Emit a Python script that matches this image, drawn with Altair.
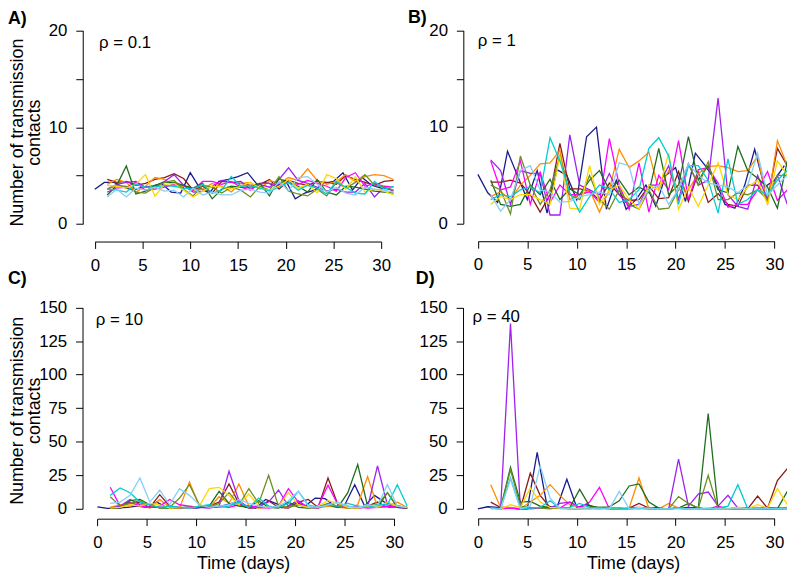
import altair as alt
import pandas as pd

FONT = "Liberation Sans"

SERIES = ["navy", "darkred", "darkorange", "purple", "magenta",
          "darkgreen", "olivedrab", "gold", "darkturquoise", "lightskyblue"]
COLORS = ["#1A1A8C", "#8B1A1A", "#FF8C00", "#A020F0", "#FF00FF",
          "#1E6E1E", "#6B8E23", "#FFD700", "#00CED1", "#87CEFA"]

# time points (days)
T_NAVY = [0, 1, 2, 3, 4, 5, 6, 7, 8, 9, 10, 11, 12, 13, 14, 15, 16, 17, 18, 19,
          20, 21, 22, 23, 24, 25, 26, 27, 28, 29, 30, 31]
T_OTHER = [1.3, 2.3, 3.3, 4.3, 5.3, 6.3, 7.3, 8.3, 9.3, 10.3, 11.3, 12.3, 13.3,
           14.3, 15.3, 16.3, 17.3, 18.3, 19.3, 20.3, 21.3, 22.3, 23.3, 24.3,
           25.3, 26.3, 27.3, 28.3, 29.3, 30.3, 31.3]

# ---- Panel A (rho = 0.1)
A = {
    "navy": [3.6, 4.3, 4.3, 3.8, 3.5, 3.8, 3.9, 4.2, 3.3, 3.2, 5.3, 3.7, 3.2, 4.4, 4.6, 4.9,
             5.3, 4.1, 4.3, 3.9, 4.5, 2.6, 3.2, 3.5, 4.2, 4.4, 5.3, 3.5, 4.8, 4.0, 3.7, 3.6],
    "darkred": [4.6, 4.3, 4.4, 4.0, 4.2, 4.6, 4.8, 5.2, 4.7, 3.5, 3.9, 3.2, 4.4, 4.3, 4.2, 4.0,
                4.1, 4.6, 3.6, 4.5, 4.2, 4.0, 4.4, 4.3, 4.1, 5.0, 4.6, 4.3, 4.0, 4.4, 4.5],
    "darkorange": [4.1, 4.6, 4.3, 3.3, 3.9, 4.8, 4.6, 4.0, 3.9, 3.5, 3.6, 4.2, 3.9, 3.3, 4.2, 4.3,
                   3.6, 4.5, 4.2, 4.8, 4.5, 5.7, 4.5, 4.1, 4.4, 5.1, 4.4, 4.9, 5.1, 5.0, 4.6],
    "purple": [3.6, 4.1, 4.3, 4.4, 3.8, 3.9, 4.4, 5.1, 4.0, 3.3, 3.4, 3.9, 4.5, 4.3, 4.4, 3.6,
               4.1, 3.8, 4.6, 5.8, 4.5, 4.2, 3.8, 3.4, 3.6, 3.3, 3.3, 4.2, 2.8, 3.8, 3.4],
    "magenta": [3.3, 3.7, 3.8, 4.3, 3.5, 3.6, 3.8, 4.1, 4.0, 3.5, 4.4, 4.4, 4.1, 4.4, 3.8, 3.5,
                4.2, 4.2, 4.0, 4.3, 4.1, 4.5, 4.2, 3.9, 3.4, 4.8, 5.3, 3.9, 4.2, 3.9, 3.8],
    "darkgreen": [3.0, 4.0, 6.0, 3.1, 3.4, 4.0, 4.3, 4.3, 4.0, 3.7, 4.2, 2.6, 3.6, 3.9, 3.8, 3.8,
                  4.2, 2.9, 4.7, 4.3, 3.9, 3.3, 4.6, 3.3, 3.0, 3.9, 3.8, 3.6, 3.4, 3.3, 3.2],
    "olivedrab": [3.6, 4.0, 3.9, 3.3, 3.2, 3.8, 4.3, 4.5, 3.6, 2.9, 4.0, 3.8, 3.2, 3.8, 3.5, 2.8,
                  3.9, 3.5, 4.9, 3.4, 3.1, 2.9, 3.6, 2.9, 4.3, 3.7, 4.3, 5.1, 4.0, 3.8, 3.5],
    "gold": [4.0, 3.9, 3.7, 4.1, 5.1, 2.9, 4.1, 4.2, 3.5, 2.8, 3.4, 3.9, 3.8, 3.6, 3.9, 4.3,
             3.7, 3.5, 3.9, 4.6, 3.7, 4.1, 3.2, 5.1, 4.7, 3.6, 4.9, 3.3, 3.6, 3.4, 3.0],
    "darkturquoise": [3.6, 3.5, 3.3, 4.1, 3.8, 3.8, 4.0, 3.9, 3.7, 3.6, 4.1, 3.2, 3.5, 4.9, 3.9, 4.0,
                      3.7, 3.4, 3.8, 4.3, 3.5, 4.0, 3.7, 3.1, 4.4, 3.8, 3.2, 3.1, 4.4, 3.6, 3.9],
    "lightskyblue": [2.8, 3.6, 2.8, 3.7, 3.5, 3.8, 3.4, 3.5, 2.8, 3.7, 3.0, 3.3, 3.0, 3.0, 3.5, 3.6,
                     3.3, 3.2, 4.4, 3.4, 4.8, 4.9, 4.1, 3.3, 3.8, 3.2, 3.0, 3.8, 3.6, 3.5, 3.3],
}

# ---- Panel B (rho = 1)
B = {
    "navy": [5.1, 3.2, 2.2, 7.5, 5.0, 2.5, 5.5, 1.1, 5.6, 5.0, 2.5, 9.0, 10.0, 1.5, 4.5, 1.5,
             2.5, 4.0, 1.8, 5.0, 5.8, 2.3, 7.3, 6.0, 4.5, 2.0, 1.6, 4.0, 7.7, 3.8, 4.5, 6.0],
    "darkred": [4.3, 4.3, 4.5, 4.2, 3.0, 1.2, 3.0, 8.3, 3.6, 3.6, 3.4, 2.4, 4.2, 3.0, 2.4, 2.5,
                3.9, 2.6, 2.7, 5.4, 2.3, 5.3, 2.2, 3.1, 2.0, 1.8, 4.0, 4.0, 2.5, 7.8, 6.0],
    "darkorange": [2.8, 3.3, 2.5, 4.0, 5.0, 6.2, 6.3, 7.6, 2.5, 3.0, 3.5, 1.2, 3.5, 7.7, 5.8, 6.5,
                   7.4, 3.5, 5.5, 3.5, 3.5, 5.2, 5.9, 6.0, 5.8, 5.4, 5.5, 7.0, 2.0, 8.6, 6.0],
    "purple": [6.6, 5.5, 2.0, 5.5, 5.2, 5.2, 0.9, 0.9, 9.2, 4.0, 3.5, 3.0, 5.2, 3.0, 1.8, 2.0,
               4.0, 4.0, 6.0, 2.5, 6.2, 4.0, 4.5, 13.0, 3.0, 1.8, 1.5, 5.0, 2.5, 5.0, 2.0],
    "magenta": [6.5, 3.5, 3.8, 6.5, 2.0, 5.3, 2.2, 4.0, 3.0, 3.0, 3.3, 2.2, 8.8, 4.0, 1.5, 6.3,
                1.2, 5.0, 3.5, 8.6, 2.5, 5.6, 5.8, 4.2, 1.7, 2.0, 2.0, 3.5, 5.4, 2.4, 3.5],
    "darkgreen": [4.5, 2.0, 1.8, 2.0, 4.0, 3.0, 4.6, 2.5, 3.6, 3.0, 4.5, 5.5, 3.5, 4.5, 3.0, 3.8,
                  3.2, 7.8, 3.0, 4.0, 9.0, 4.5, 6.0, 3.5, 3.2, 8.0, 5.5, 4.7, 3.8, 1.6, 6.5],
    "olivedrab": [4.0, 3.5, 1.0, 7.0, 4.0, 2.0, 3.5, 7.0, 3.0, 2.5, 5.0, 2.5, 1.5, 3.5, 2.0, 1.5,
                  3.5, 1.5, 1.6, 3.5, 6.2, 4.0, 6.4, 2.5, 2.5, 3.2, 3.0, 3.5, 2.5, 5.0, 5.0],
    "gold": [2.0, 2.8, 2.5, 3.0, 3.0, 2.5, 2.0, 7.0, 1.6, 1.5, 6.0, 2.0, 3.5, 4.0, 2.5, 1.5,
             4.0, 3.5, 7.3, 1.5, 3.8, 1.8, 4.0, 6.3, 3.0, 2.5, 3.8, 4.5, 2.0, 6.5, 5.0],
    "darkturquoise": [2.5, 3.0, 2.8, 3.5, 3.8, 3.2, 8.9, 6.5, 3.2, 1.2, 2.8, 4.0, 3.6, 2.2, 2.5, 3.5,
                      7.8, 8.9, 7.0, 2.0, 6.0, 6.0, 4.5, 1.1, 6.7, 2.0, 2.5, 3.5, 3.0, 4.5, 5.5],
    "lightskyblue": [3.0, 1.3, 2.5, 5.5, 6.0, 3.5, 3.3, 2.2, 2.3, 2.8, 3.0, 3.3, 3.0, 6.3, 6.0, 2.0,
                     3.5, 4.0, 2.0, 3.6, 6.2, 5.0, 4.2, 4.0, 3.8, 3.2, 4.0, 7.3, 3.0, 4.0, 5.0],
}

# ---- Panel C (rho = 10)
C = {
    "navy": [1.5, 0.3, 0.5, 1, 2, 1, 5, 1, 0.5, 1, 0.5, 2, 1, 3, 5, 1, 0.5, 7, 4, 1,
             5, 2, 8, 7.5, 2, 3, 18, 2, 10, 5, 3, 1],
    "darkred": [1, 0.5, 4, 5, 1, 10.5, 2, 0.5, 1, 1, 2, 5, 18.5, 4, 0.5, 1, 6, 1, 0.5, 5,
                7, 1, 23, 3, 1, 0.5, 2, 5, 1, 1.5, 0.5],
    "darkorange": [1, 3, 2, 4, 0.5, 7, 1, 0.5, 20, 2, 1, 9, 4, 18.5, 2, 0.5, 1, 2, 1, 3,
                   1, 0.5, 2, 1, 0.5, 3, 24, 1, 1, 5, 1],
    "purple": [0.5, 2, 7, 3, 1, 1, 2, 1, 0.5, 1, 0.5, 2, 28, 6, 1, 2, 5, 14, 2, 6,
               1, 0.5, 4, 1, 2, 0.5, 1, 32, 3, 1, 0.5],
    "magenta": [16, 2, 5, 2, 1, 2, 7, 3, 2, 1, 1, 2, 1, 3, 2, 1, 0.5, 2, 15, 5,
                1, 2, 17.5, 3, 1, 2, 0.5, 1, 2, 1, 0.5],
    "darkgreen": [0.5, 0.5, 6, 7, 3, 0.5, 0.5, 1, 1, 1, 2, 13, 4, 2, 1, 6, 1, 0.5, 5, 1,
                  0.5, 2, 3, 1, 12, 33, 2, 1, 12, 1, 0.5],
    "olivedrab": [9, 2, 4, 6, 3, 0.5, 1, 8, 18, 3, 1, 4, 12, 3, 15, 4, 25, 2, 1, 3,
                  0.5, 1, 4, 2, 0.5, 1, 2, 3, 12, 2, 1],
    "gold": [0.5, 1, 3, 2, 4, 3, 0.5, 1, 0.5, 2, 15, 16, 10, 3, 11, 2, 1, 2, 12, 3,
             1, 2, 6, 4, 1, 0.5, 2, 1, 5, 2, 1],
    "darkturquoise": [10, 15.5, 12, 5, 3, 1, 2, 1, 0.5, 2, 3, 1, 2, 5, 1, 8, 2, 1, 4, 13,
                      3, 1, 3, 2, 4, 2, 1, 3, 3, 18, 2],
    "lightskyblue": [4, 5, 10, 23, 5, 14, 3, 15, 10, 3, 1, 2, 3, 7, 4, 2, 1, 2, 6, 13,
                     2, 1, 3, 5, 2, 1, 3, 2, 18, 2, 1],
}

# ---- Panel D (rho = 40)
D = {
    "navy": [0, 1.5, 1, 1, 0, 0, 42, 2, 1, 22, 1, 3, 1, 0.5, 0, 0, 1, 0.5, 1, 0,
             0.5, 0, 1, 0, 0, 0, 0.5, 0, 0, 0, 0, 0],
    "darkred": [5, 1, 0.5, 0, 26.5, 10, 1, 0.5, 0, 0, 0.5, 0, 1, 0, 0.5, 4, 0.5, 0, 0, 0.5,
                1, 0, 0, 0.5, 0, 0, 0, 9.5, 0.5, 21, 30],
    "darkorange": [18, 1, 1, 0, 5, 10, 18, 10, 3, 1, 0.5, 0, 1, 0, 0.5, 23, 0, 0, 4, 0.5,
                   0, 0, 0.5, 0, 0, 1, 0.5, 1, 0, 0.5, 1],
    "purple": [1, 0, 138, 0, 0.5, 1, 0.5, 4, 5, 1, 1, 0.5, 0, 0.5, 0, 1, 0.5, 0, 0, 37,
               2, 11, 12.5, 2, 10, 0.5, 0, 0, 1, 0.5, 0],
    "magenta": [0.5, 0, 0.5, 0, 0, 0.5, 1, 0.5, 5, 1, 5, 16, 0, 0.5, 0, 0.5, 0, 0, 0, 0.5,
                0, 0.5, 0, 2, 0, 0, 0.5, 0, 1, 0, 0],
    "darkgreen": [1, 0.5, 31, 5, 5.5, 2, 1, 0.5, 1, 14.5, 2, 1, 1.5, 6, 17, 18.5, 5, 0.5, 0, 0.5,
                  4, 0.5, 71, 0, 0, 0, 0.5, 0, 0, 0, 13],
    "olivedrab": [0.5, 0, 29, 2, 1, 0.5, 0, 1, 0, 0.5, 0, 1, 0.5, 0, 0, 0.5, 0, 0, 0, 9,
                  4, 0.5, 25, 0, 0, 0.5, 0, 0, 0, 0, 0.5],
    "gold": [0.5, 0, 3, 1, 15.5, 5, 1, 0.5, 0, 0.5, 1, 0, 0.5, 0, 0, 1, 0.5, 0, 0, 0.5,
             0, 0, 0.5, 0, 0, 1, 0, 3, 0.5, 15, 3],
    "darkturquoise": [0.5, 0, 23, 0, 0.5, 1, 6, 0.5, 1, 4, 1, 0.5, 0, 0, 0.5, 0, 1, 0, 0, 0.5,
                      0, 0, 0, 0.5, 2, 18, 0, 0, 0.5, 0, 0],
    "lightskyblue": [0, 0, 22, 0, 2, 32, 8, 0, 0, 0, 0, 0, 0, 13, 0, 0, 0, 0, 0, 0,
                     0, 0, 0, 0, 0, 0, 0, 0, 0, 0, 0],
}

X_TICKS = [0, 5, 10, 15, 20, 25, 30]
Y_TICKS_SMALL = [0, 5, 10, 15, 20]
Y_TICKS_BIG = [0, 25, 50, 75, 100, 125, 150]

W, H = 787, 570


def frame(d):
    rows = []
    for s in SERIES:
        ts = T_NAVY if s == "navy" else T_OTHER
        for t, v in zip(ts, d[s]):
            rows.append({"series": s, "t": t, "v": v})
    return pd.DataFrame(rows)


def panel(d, xr, yr, ydom, yticks, xoff, yoff, label_expr=None):
    yaxis_kw = dict(orient="left", offset=yoff, values=yticks, title=None, grid=False,
                    labelPadding=9, labelOverlap=False, labelFlush=False)
    if label_expr:
        yaxis_kw["labelExpr"] = label_expr
    return alt.Chart(frame(d)).mark_line(strokeWidth=1.3).encode(
        x=alt.X("t:Q",
                scale=alt.Scale(domain=[0, 30], range=xr, nice=False, zero=False),
                axis=alt.Axis(orient="bottom", offset=xoff, values=X_TICKS, title=None,
                              grid=False, labelPadding=9, labelOverlap=False,
                              labelFlush=False)),
        y=alt.Y("v:Q",
                scale=alt.Scale(domain=ydom, range=yr, nice=False, zero=False),
                axis=alt.Axis(**yaxis_kw)),
        color=alt.Color("series:N", scale=alt.Scale(domain=SERIES, range=COLORS),
                        legend=None),
    )


def label(text, x, y, size=17, weight="normal", angle=0, align="left"):
    return alt.Chart(pd.DataFrame({"txt": [text]})).mark_text(
        align=align, baseline="alphabetic", fontSize=size, fontWeight=weight,
        angle=angle, font=FONT, color="black"
    ).encode(x=alt.value(x), y=alt.value(y), text="txt:N")


EXPR10 = "datum.value % 10 == 0 ? datum.label : ''"

pA = panel(A, [87.7, 377.0], [215.3, 19.7], [0, 20], Y_TICKS_SMALL, 233 - H, -75.5, EXPR10)
pB = panel(B, [474.7, 774.3], [215.0, 19.7], [0, 20], Y_TICKS_SMALL, 232.7 - H, -460, EXPR10)
pC = panel(C, [90.3, 390.3], [503.0, 299.7], [0, 150], Y_TICKS_BIG, 513 - H, -75.3)
pD = panel(D, [474.7, 774.3], [503.0, 299.7], [0, 150], Y_TICKS_BIG, 512.7 - H, -459.7)

texts = [
    label("A)", 0, 13, size=18, weight="bold"),
    label("B)", 404, 12.5, size=18, weight="bold"),
    label("C)", 0, 276, size=18, weight="bold"),
    label("D)", 412, 276, size=18, weight="bold"),
    label("ρ = 0.1", 92, 37.7),
    label("ρ = 1", 474.7, 35.3),
    label("ρ = 10", 88.7, 317.7),
    label("ρ = 40", 469.3, 314),
    label("Number of transmission", 15.5, 123, size=18, angle=270, align="center"),
    label("contacts", 32.5, 123, size=18, angle=270, align="center"),
    label("Number of transmission", 15.5, 404, size=18, angle=270, align="center"),
    label("contacts", 32.5, 404, size=18, angle=270, align="center"),
    label("Time (days)", 238, 564, size=18, align="center"),
    label("Time (days)", 632, 564, size=18, align="center"),
]

chart = alt.layer(pA, pB, pC, pD, *texts).resolve_scale(
    x="independent", y="independent"
).properties(
    width=W, height=H, padding=0,
    autosize=alt.AutoSizeParams(type="none"),
).configure_view(stroke=None).configure_axis(
    domainColor="black", domainWidth=1, tickColor="black", tickWidth=1, tickSize=7,
    labelFont=FONT, labelFontSize=17, labelColor="black",
)

chart.save("out.html", embed_options={"renderer": "svg", "actions": False})
